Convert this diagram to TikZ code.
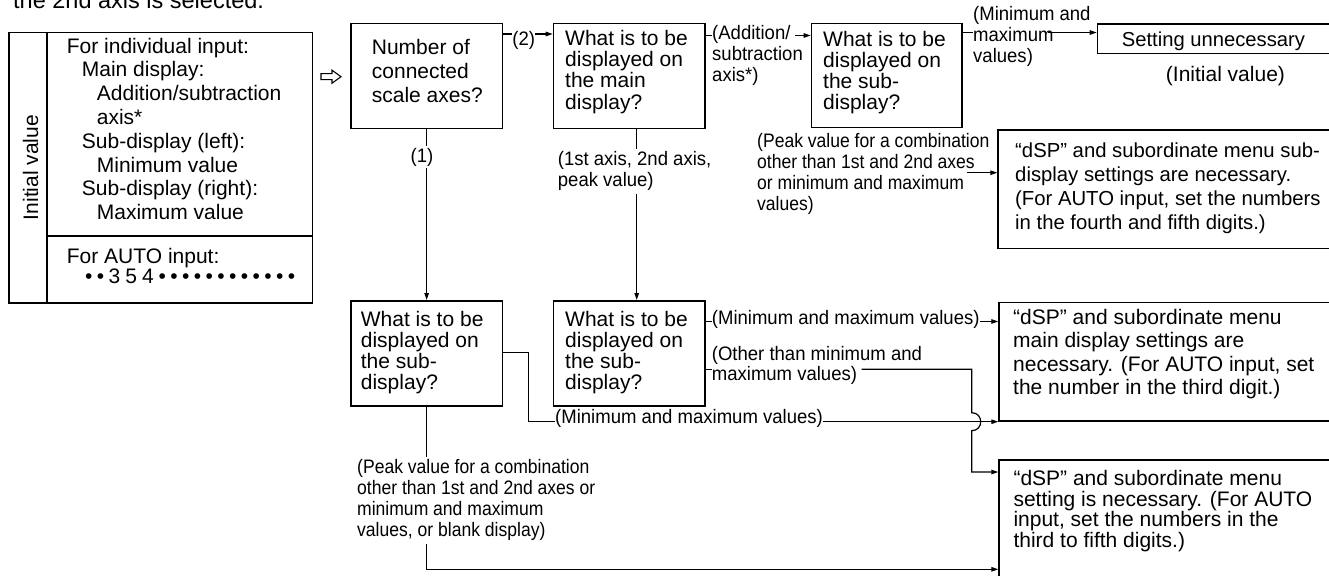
\documentclass[tikz,border=0pt]{standalone}
\usepackage{fontspec}
\setmainfont{Liberation Sans}
\newfontfamily\labfont{Liberation Sans}[FakeStretch=0.95]
\newfontfamily\condfont{Liberation Sans}[FakeStretch=0.9]
\usetikzlibrary{arrows.meta}
\newcommand\mydot{•\hspace{4.4pt}}
\newcommand\mydig[1]{#1\hspace{5pt}}
\begin{document}
\begin{tikzpicture}[x=1pt,y=-1pt,
  box/.style={draw, line width=1.6pt, inner sep=0pt, anchor=north west},
  txt/.style={font=\fontsize{21}{23.7}\selectfont, align=left, inner sep=0pt, anchor=north west},
  lab/.style={font=\labfont\fontsize{19.5}{21}\selectfont, align=left, inner sep=0pt, anchor=north west},
  plab/.style={font=\condfont\fontsize{19.5}{21}\selectfont, align=left, inner sep=0pt, anchor=north west},
  conn/.style={line width=1.2pt},
  arr/.style={conn, -{Triangle[length=7pt,width=4.5pt]}},
]
\useasboundingbox (0,0) rectangle (1329,575);
\clip (0,0) rectangle (1329,575);
\fill[white] (0,0) rectangle (1329,575);

% title (cut at top)
\node[font=\fontsize{23.5}{26}\selectfont, inner sep=0pt, anchor=base west] (title) at (13,8.3) {the 2nd axis is selected.};

% left box
\node[box, minimum width=303.4pt, minimum height=270.3pt] (lbox) at (8.3,31.7) {};
\draw[line width=1.6pt] (lbox.north -| 46.7,0) -- (lbox.south -| 46.7,0);
\draw[line width=1.6pt] (46.7,236) -- (lbox.east |- 0,236);
\node[txt, anchor=center, rotate=90] (iv) at (30.7,167.5) {Initial value};
\node[txt, font=\fontsize{21}{23.8}\selectfont] (lt1) at (66.7,37.7) {For individual input:\\
\hspace*{15pt}Main display:\\
\hspace*{30pt}Addition/subtraction\\
\hspace*{30pt}axis*\\
\hspace*{15pt}Sub-display (left):\\
\hspace*{30pt}Minimum value\\
\hspace*{15pt}Sub-display (right):\\
\hspace*{30pt}Maximum value};
\node[txt, font=\fontsize{21}{20}\selectfont] (lt2) at (66.7,247.7) {For AUTO input:\\
\hspace*{18.3pt}\mydot\mydot\mydig{3}\mydig{5}\mydig{4}\mydot\mydot\mydot\mydot\mydot\mydot\mydot\mydot\mydot\mydot\mydot•};

% hollow arrow
\draw[line width=1.1pt, line join=miter] (321,73.7) -- (332,73.7) -- (332,70.2) -- (341,76.7) -- (332,83.2) -- (332,79.7) -- (321,79.7) -- cycle;

% boxes
\node[box, minimum width=151.7pt, minimum height=105pt] (b1) at (350,22.7) {};
\node[txt] (b1t) at (371.7,39.3) {Number of\\connected\\scale axes?};
\node[box, minimum width=151.3pt, minimum height=105pt] (b2) at (552.7,22.7) {};
\node[txt, font=\fontsize{21}{21.1}\selectfont] (b2t) at (565,30.3) {What is to be\\displayed on\\the main\\display?};
\node[box, minimum width=150.3pt, minimum height=104pt] (b3) at (810.7,22.7) {};
\node[txt, font=\fontsize{21}{21.1}\selectfont] (b3t) at (823,31) {What is to be\\displayed on\\the sub-\\display?};
\node[box, minimum width=250pt, minimum height=29.4pt] (bset) at (1096.7,23.3) {};
\node[txt, font=\fontsize{20.2}{21}\selectfont] (bsett) at (1121.7,31.4) {Setting unnecessary};
\node[txt] (init) at (1165.7,66) {(Initial value)};
\node[box, minimum width=350pt, minimum height=118.4pt] (bsub) at (997.3,129.3) {};
\node[txt, font=\fontsize{20.3}{23.9}\selectfont] (bsubt) at (1015,142.7) {“dSP” and subordinate menu sub-\\display settings are necessary.\\(For AUTO input, set the numbers\\in the fourth and fifth digits.)};

\node[box, minimum width=151.7pt, minimum height=105pt] (b4) at (350,300) {};
\node[txt, font=\fontsize{21}{21.1}\selectfont] (b4t) at (360.7,311) {What is to be\\displayed on\\the sub-\\display?};
\node[box, minimum width=151.3pt, minimum height=105pt] (b5) at (552.7,300) {};
\node[txt, font=\fontsize{21}{21.1}\selectfont] (b5t) at (565,311) {What is to be\\displayed on\\the sub-\\display?};
\node[box, minimum width=350pt, minimum height=118.3pt] (bmain) at (998.3,301.7) {};
\node[txt, font=\fontsize{21}{23.5}\selectfont] (bmaint) at (1013,309) {“dSP” and subordinate menu\\main display settings are\\necessary. (For AUTO input, set\\the number in the third digit.)};
\node[box, minimum width=350pt, minimum height=140pt] (ball) at (998.3,459.3) {};
\node[txt, font=\fontsize{21}{20.7}\selectfont] (ballt) at (1013.3,470) {“dSP” and subordinate menu\\setting is necessary. (For AUTO\\input, set the numbers in the\\third to fifth digits.)};

% (2)
\node[lab, anchor=center] (l2) at (523.8,40) {(2)};
\draw[conn] (b1.east |- 0,34) -- (l2.west |- 0,34);
\draw[arr] (l2.east |- 0,34) -- (b2.west |- 0,34);

% (1)
\draw[arr] (b1.south) -- (b4.north);
\node[lab, anchor=center, fill=white, inner ysep=2pt] (l1) at (422,157) {(1)};

% b2 -> b5
\coordinate (c25) at (636.7,0);
\draw[arr] (b2.south -| c25) -- (b5.north -| c25);
\node[lab, fill=white, inner ysep=3pt] (l25) at (557.7,148.5) {(1st axis, 2nd axis,\\peak value)};

% b2 -> b3
\node[lab] (l3) at (712,24.9) {(Addition/\\subtraction\\axis*)};
\coordinate (a3) at (795,35.5);
\draw[conn] (b2.east |- a3) -- (l3.west |- a3);
\draw[arr] (a3) -- (b3.west |- a3);

% b3 -> bset
\node[lab] (l4) at (973,6.6) {(Minimum and\\maximum\\values)};
\coordinate (a4) at (1048,32.5);
\draw[conn] (b3.east |- a4) -- (l4.west |- a4);
\draw[arr] (a4) -- (bset.west |- a4);

% peak label -> bsub
\node[plab] (l5) at (757,133.3) {(Peak value for a combination\\other than 1st and 2nd axes\\or minimum and maximum\\values)};
\coordinate (a5) at (966.7,172.7);
\draw[arr] (a5) -- (bsub.west |- a5);

% b5 -> bmain
\node[lab] (l6) at (711.7,310) {(Minimum and maximum values)};
\draw[conn] (b5.east |- 0,321.5) -- (l6.west |- 0,321.5);
\draw[arr] (l6.east |- 0,321.5) -- (bmain.west |- 0,321.5);

% b5 -> ball
\node[lab, font=\labfont\fontsize{19.5}{20}\selectfont] (l7) at (711.7,346.6) {(Other than minimum and\\maximum values)};
\coordinate (a7) at (861.7,369.3);
\coordinate (j7) at (971.7,369.3);
\draw[conn] (b5.east |- a7) -- (l7.west |- a7);
\draw[arr] (a7) -- (j7) -- (971.7,412.7) .. controls (983.7,412.7) and (983.7,430.7) .. (971.7,430.7) -- (971.7,472) -- (ball.west |- 0,472);

% b4 -> bmain
\node[lab] (l8) at (555,409.6) {(Minimum and maximum values)};
\coordinate (k8) at (528.3,421.7);
\draw[conn] (b4.east |- 0,352.7) -| (k8) -- (l8.west |- k8);
\draw[arr] (l8.east |- k8) -- (bmain.west |- k8);

% b4 -> ball
\coordinate (a9) at (0,569.3);
\draw[arr] (b4.south) -- (b4.south |- a9) -- (ball.west |- a9);
\node[plab, fill=white, inner ysep=3pt] (l9) at (357,456.6) {(Peak value for a combination\\other than 1st and 2nd axes or\\minimum and maximum\\values, or blank display)};
\end{tikzpicture}
\end{document}
